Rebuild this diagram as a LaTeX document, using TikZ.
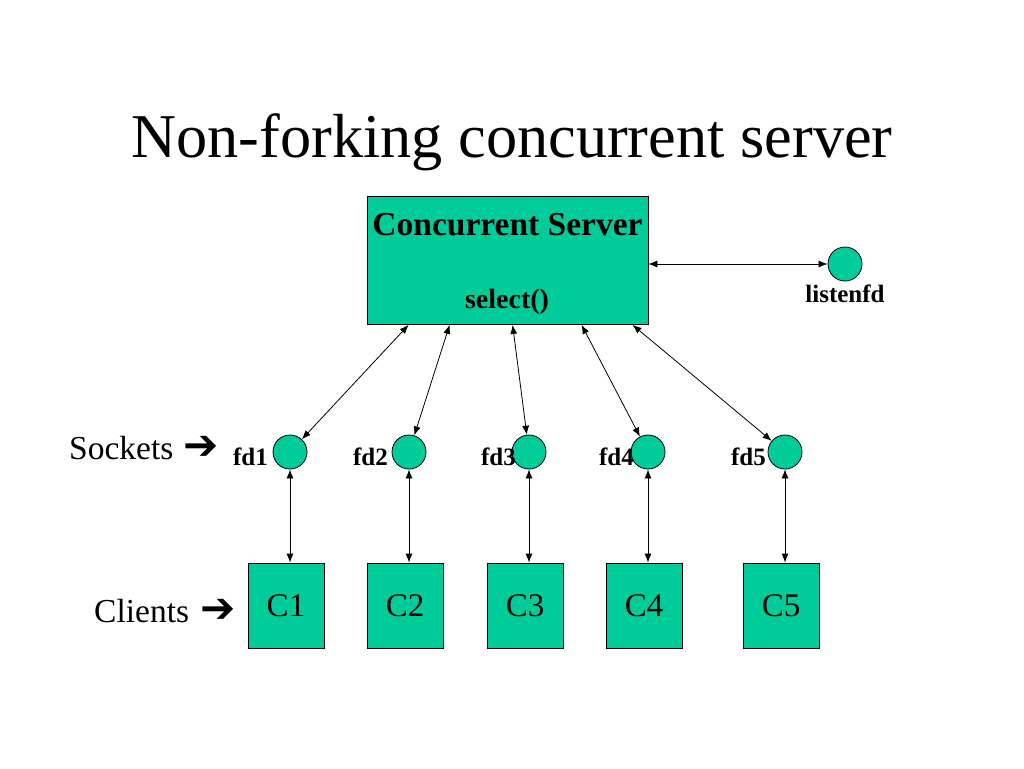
\documentclass[tikz,border=0pt]{standalone}
\usepackage{fontspec}
\setmainfont{Liberation Serif}
\newfontfamily\symfont{DejaVu Sans}
\usetikzlibrary{calc}
\usetikzlibrary{arrows.meta}
\definecolor{boxgreen}{RGB}{0,204,153}
\tikzset{
  cbox/.style={draw, fill=boxgreen, line width=0.8pt, inner sep=0pt, minimum width=76pt, minimum height=85pt, font=\fontsize{33}{36}\selectfont},
  sock/.style={draw, circle, fill=boxgreen, line width=0.8pt, inner sep=0pt, minimum size=34pt},
  fdlabel/.style={anchor=base east, inner sep=0pt, font=\bfseries\fontsize{25}{28}\selectfont},
  side/.style={anchor=base west, inner sep=0pt, font=\fontsize{33.5}{36}\selectfont},
  link/.style={{Latex[length=9pt,width=7pt]}-{Latex[length=9pt,width=7pt]}, line width=0.8pt}
}
\newcommand{\sock}[3]{ \node[sock] (#1) at (#2,452) {}; \node[fdlabel] (#1lab) at (#3,465) {#1};}
\newcommand{\client}[3]{ \node[cbox] (#1) at (#2,605.5) {#3};}
\newcommand{\heavyarrow}{{\symfont\bfseries\fontsize{42}{42}\selectfont ➔}}

\begin{document}
\begin{tikzpicture}[x=1pt,y=-1pt]
        \useasboundingbox (0,0) rectangle (1024,768);
        \node[anchor=base, inner sep=0pt, font=\fontsize{62.3}{66}\selectfont] (title) at (512,157) {Non-forking concurrent server};
        % server
        \node[draw, fill=boxgreen, line width=0.8pt, minimum width=281pt, minimum height=128pt] (server) at (507.5,260.5) {};
        \node[anchor=base, inner sep=0pt, font=\bfseries\fontsize{33.5}{36}\selectfont] (srvname) at (507.5,235) {Concurrent Server};
        \node[anchor=base, inner sep=0pt, font=\bfseries\fontsize{28}{30}\selectfont] (select) at (507,308) {select()};
        \node[sock] (lfd) at (845,264) {};
        \node[anchor=base, inner sep=0pt, font=\bfseries\fontsize{25}{28}\selectfont] (lfdlab) at (845,302) {listenfd};
        \draw[link] (server.east |- lfd) -- (lfd);
        % sockets
        \node[side] (sockets) at (69,459) {Sockets};
        \node[anchor=west, inner sep=0pt] (sockarrow) at (183,448) {\heavyarrow};
        \sock{fd1}{290}{268}
        \sock{fd2}{409}{388}
        \sock{fd3}{529}{516}
        \sock{fd4}{648}{634}
        \sock{fd5}{785}{766}
        \coordinate (p1) at ($(server.south west)+(42,0)$);
        \coordinate (p2) at ($(server.south west)+(83,0)$);
        \coordinate (p3) at ($(server.south west)+(146,0)$);
        \coordinate (p4) at ($(server.south west)+(215,0)$);
        \coordinate (p5) at ($(server.south west)+(266,0)$);
        \draw[link] (p1) -- (fd1);
        \draw[link] (p2) -- (fd2);
        \draw[link] (p3) -- (fd3);
        \draw[link] (p4) -- (fd4);
        \draw[link] (p5) -- (fd5);
        % clients
        \node[side] (clients) at (94,622) {Clients};
        \node[anchor=west, inner sep=0pt] (cliarrow) at (200,611) {\heavyarrow};
        \client{c1}{286}{C1}
        \client{c2}{405}{C2}
        \client{c3}{525}{C3}
        \client{c4}{644}{C4}
        \client{c5}{781}{C5}
        \draw[link] (fd1) -- (fd1 |- c1.north);
        \draw[link] (fd2) -- (fd2 |- c2.north);
        \draw[link] (fd3) -- (fd3 |- c3.north);
        \draw[link] (fd4) -- (fd4 |- c4.north);
        \draw[link] (fd5) -- (fd5 |- c5.north);
\end{tikzpicture}
\end{document}
